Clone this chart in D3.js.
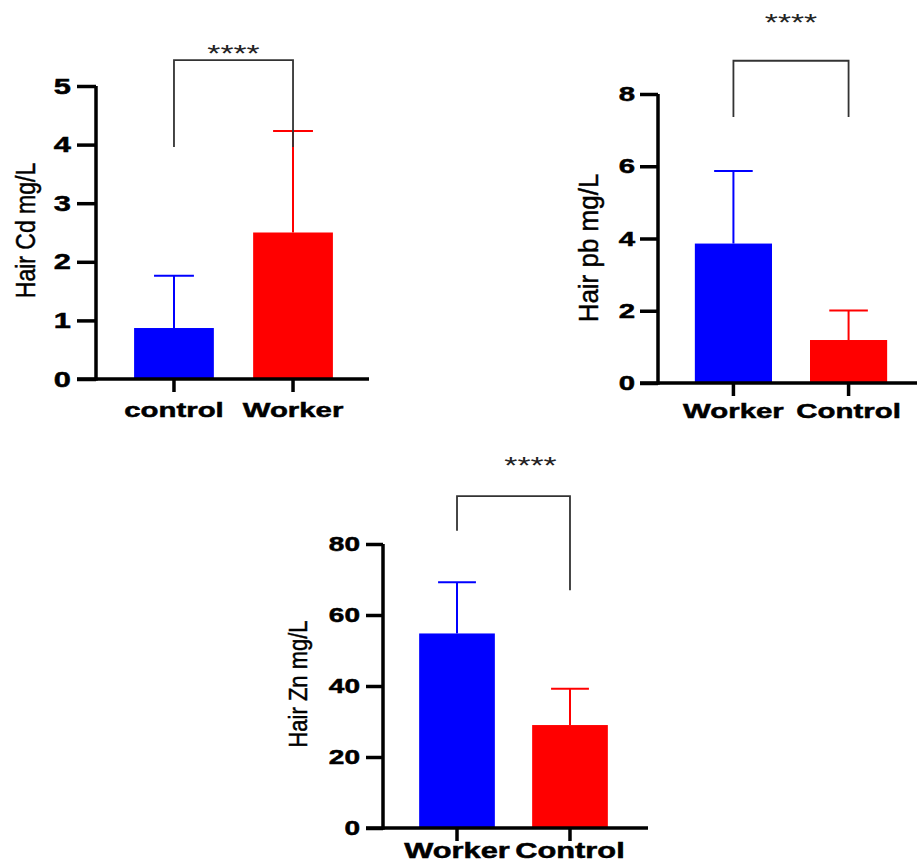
<!DOCTYPE html>
<html>
<head>
<meta charset="utf-8">
<script src="https://cdn.jsdelivr.net/npm/d3@7"></script>
<style>
  body { margin: 0; background: #fff; }
  svg { display: block; }
</style>
</head>
<body>
<svg id="chart" width="917" height="863"></svg>
<script>
// data (mean and SD per group)
const cdCategories = ['control', 'Worker'];
const cdMeans = [0.87, 2.50];
const cdSD = [0.89, 1.73];
const cdTicks = [0, 1, 2, 3, 4, 5];

const pbCategories = ['Worker', 'Control'];
const pbMeans = [3.86, 1.19];
const pbSD = [2.01, 0.82];
const pbTicks = [0, 2, 4, 6, 8];

const znCategories = ['Worker', 'Control'];
const znMeans = [54.8, 29.0];
const znSD = [14.4, 10.2];
const znTicks = [0, 20, 40, 60, 80];

const significance = '****';
const barColors = ['#0000ff', '#ff0000'];

// layout of the three panels
const panels = [
  {
    cats: cdCategories, means: cdMeans, sds: cdSD, ticks: cdTicks, label: 'Hair Cd mg/L',
    axisX: 96, y0: 379, yTop: 86, rangeW: 275, xEnd: 369,
    tickLen: 19, tickPad: 6, tickFont: 22, catFont: 21, catY: 417,
    labelX: 35, labelY: 230.5, labelFont: 23, labelStretch: 1.2,
    bracket: { top: 5.44, left: 3.96, right: 3.96 }, starsDx: 0, starsY: 62
  },
  {
    cats: pbCategories, means: pbMeans, sds: pbSD, ticks: pbTicks, label: 'Hair pb mg/L',
    axisX: 658, y0: 383, yTop: 94, rangeW: 266, xEnd: 917,
    tickLen: 18, tickPad: 5, tickFont: 21, catFont: 21, catY: 418,
    labelX: 598, labelY: 248, labelFont: 26, labelStretch: 1.07,
    bracket: { top: 8.92, left: 7.36, right: 7.36 }, starsDx: 0, starsY: 31
  },
  {
    cats: znCategories, means: znMeans, sds: znSD, ticks: znTicks, label: 'Hair Zn mg/L',
    axisX: 383, y0: 828, yTop: 544, rangeW: 261, xEnd: 648,
    tickLen: 17, tickPad: 6, tickFont: 20, catFont: 22, catY: 858,
    labelX: 307, labelY: 684, labelFont: 22, labelStretch: 1.2,
    bracket: { top: 93.5, left: 83.7, right: 67 }, starsDx: 17, starsY: 474
  }
];

const svg = d3.select('#chart');
const stretch = 1.4; // the figure's bold text is drawn wide
const font = 'Liberation Sans, Arial, sans-serif';

panels.forEach(function (p) {
  const g = svg.append('g');

  const x = d3.scaleBand()
    .domain(p.cats)
    .range([p.axisX, p.axisX + p.rangeW])
    .paddingInner(0.33)
    .paddingOuter(0.32);

  const y = d3.scaleLinear()
    .domain([0, d3.max(p.ticks)])
    .range([p.y0, p.yTop]);

  const rows = p.cats.map((c, i) => ({ cat: c, mean: p.means[i], sd: p.sds[i], color: barColors[i] }));

  // bars
  g.append('g')
    .selectAll('rect')
    .data(rows)
    .enter()
    .append('rect')
      .attr('x', d => x(d.cat))
      .attr('y', d => y(d.mean))
      .attr('width', x.bandwidth())
      .attr('height', d => y(0) - y(d.mean))
      .attr('fill', d => d.color);

  // error bars (upper only)
  const err = g.append('g')
    .selectAll('g')
    .data(rows)
    .enter()
    .append('g')
      .attr('stroke', d => d.color)
      .attr('stroke-width', 2);
  err.append('line')
    .attr('x1', d => x(d.cat) + x.bandwidth() / 2)
    .attr('x2', d => x(d.cat) + x.bandwidth() / 2)
    .attr('y1', d => y(d.mean))
    .attr('y2', d => y(d.mean + d.sd));
  err.append('line')
    .attr('x1', d => x(d.cat) + x.bandwidth() / 4)
    .attr('x2', d => x(d.cat) + x.bandwidth() * 3 / 4)
    .attr('y1', d => y(d.mean + d.sd))
    .attr('y2', d => y(d.mean + d.sd));

  // y axis
  const yAxis = g.append('g')
    .attr('transform', `translate(${p.axisX},0)`)
    .call(d3.axisLeft(y).tickValues(p.ticks).tickFormat(d3.format('d')).tickSize(p.tickLen).tickSizeOuter(0));
  yAxis.select('.domain').remove();
  yAxis.selectAll('line').attr('stroke', '#000').attr('stroke-width', 3.5);
  yAxis.selectAll('text')
    .attr('x', 0)
    .attr('transform', `translate(${-(p.tickLen + p.tickPad)},0) scale(${stretch},1)`)
    .attr('font-family', font)
    .attr('font-weight', 'bold')
    .attr('font-size', p.tickFont)
    .attr('fill', '#000')
    .attr('stroke', '#000')
    .attr('stroke-width', 0.5);

  // x axis
  const xAxis = g.append('g')
    .attr('transform', `translate(0,${p.y0})`)
    .call(d3.axisBottom(x).tickSize(13).tickSizeOuter(0));
  xAxis.select('.domain').remove();
  xAxis.selectAll('line').attr('stroke', '#000').attr('stroke-width', 3.5);
  xAxis.selectAll('text')
    .attr('y', p.catY - p.y0)
    .attr('dy', 0)
    .attr('transform', `scale(${stretch},1)`)
    .attr('font-family', font)
    .attr('font-weight', 'bold')
    .attr('font-size', p.catFont)
    .attr('fill', '#000')
    .attr('stroke', '#000')
    .attr('stroke-width', 0.5);

  // axis lines
  g.append('line')
    .attr('x1', p.axisX).attr('x2', p.axisX)
    .attr('y1', y(d3.max(p.ticks))).attr('y2', p.y0 + 1.75)
    .attr('stroke', '#000').attr('stroke-width', 3.5);
  g.append('line')
    .attr('x1', p.axisX - p.tickLen).attr('x2', p.xEnd)
    .attr('y1', p.y0).attr('y2', p.y0)
    .attr('stroke', '#000').attr('stroke-width', 3.5);

  // y label
  g.append('text')
    .attr('transform', `translate(${p.labelX},${p.labelY}) rotate(-90) scale(1,${p.labelStretch})`)
    .attr('text-anchor', 'middle')
    .attr('font-family', font)
    .attr('font-size', p.labelFont)
    .attr('fill', '#000')
    .attr('stroke', '#000')
    .attr('stroke-width', 0.4)
    .text(p.label);

  // significance bracket
  const xa = x(p.cats[0]) + x.bandwidth() / 2;
  const xb = x(p.cats[1]) + x.bandwidth() / 2;
  g.append('path')
    .attr('d', `M${xa},${y(p.bracket.left)}V${y(p.bracket.top)}H${xb}V${y(p.bracket.right)}`)
    .attr('fill', 'none')
    .attr('stroke', '#333')
    .attr('stroke-width', 1.8);
  g.append('text')
    .attr('transform', `translate(${(xa + xb) / 2 + p.starsDx},${p.starsY}) scale(${stretch},1)`)
    .attr('text-anchor', 'middle')
    .attr('font-family', font)
    .attr('font-size', 24)
    .attr('fill', '#222')
    .text(significance);
});
</script>
</body>
</html>
